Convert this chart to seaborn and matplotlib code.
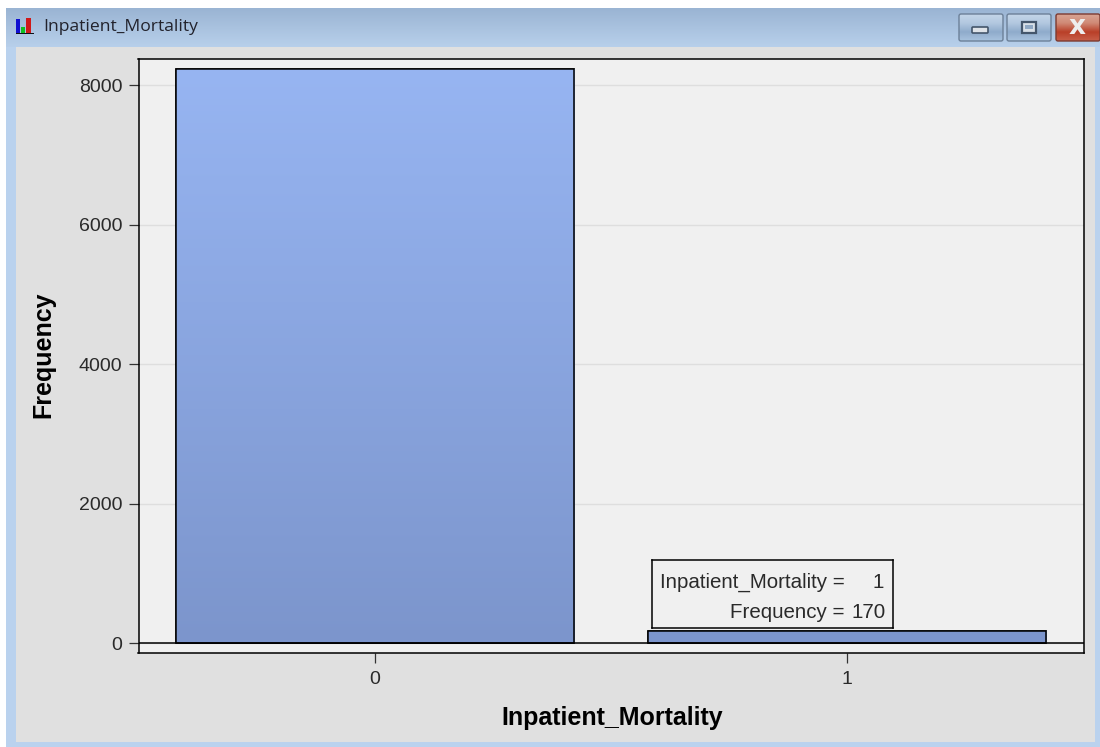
import numpy as np
import pandas as pd
import matplotlib
matplotlib.use("Agg")
import matplotlib.pyplot as plt
from matplotlib.colors import LinearSegmentedColormap
from matplotlib.patches import Rectangle, FancyBboxPatch
import seaborn as sns

categories = ["0", "1"]
frequencies = [8230, 170]
y_ticks = [0, 2000, 4000, 6000, 8000]
window_title = "Inpatient_Mortality"
x_label = "Inpatient_Mortality"
y_label = "Frequency"
tip_lines = [("Inpatient_Mortality =", "1"), ("Frequency =", "170")]

W, H = 1100, 747
sns.set_theme(style="white")
plt.rcParams["font.family"] = ["Liberation Sans", "DejaVu Sans"]

fig = plt.figure(figsize=(W / 100, H / 100), dpi=100, facecolor="white")


def px_axes(l, t, r, b, **kw):
    return fig.add_axes([l / W, 1 - b / H, (r - l) / W, (b - t) / H], **kw)


def vgrad(colors):
    return LinearSegmentedColormap.from_list("g", colors)


# window chrome
bg = px_axes(0, 0, W, H)
ramp = np.linspace(0, 1, 256)[:, None]
bg.imshow(ramp, cmap=vgrad(["#9AB4D3", "#B8D0EB"]), aspect="auto",
          extent=(6, W, 47, 8), origin="upper", zorder=1)
bg.add_patch(Rectangle((6, 47), W - 6, H - 47, fc="#BAD2EE", ec="none", zorder=1))
bg.add_patch(Rectangle((16, 47), 1079, 695, fc="#E0E0E0", ec="none", zorder=2))
bg.text(43, 27, window_title, fontsize=12.6, family=["Open Sans", "DejaVu Sans"],
        color="#22222C", va="center", ha="left", zorder=3)

# title bar icon
for x0, w, y0, c in [(16, 4, 19, "#1010D0"), (21, 4, 27, "#10C020"), (26, 5, 18, "#D01818")]:
    bg.add_patch(Rectangle((x0, y0), w, 33 - y0, fc=c, ec="none", zorder=3))
bg.add_patch(Rectangle((16, 32.5), 18, 1.5, fc="#101018", ec="none", zorder=4))

# title bar buttons
buttons = [
    (959, 1003, ["#C4D6E9", "#B2C8E0", "#8FABCB", "#A9C3DF"], "#6C8098"),
    (1007, 1051, ["#C4D6E9", "#B2C8E0", "#8FABCB", "#A9C3DF"], "#6C8098"),
    (1056, 1100, ["#D9A595", "#D08A76", "#B93F28", "#C8604A"], "#7C3A30"),
]
for x0, x1, cols, edge in buttons:
    box = FancyBboxPatch((x0, 14), x1 - x0, 27, boxstyle="round,pad=0,rounding_size=2",
                         fc="none", ec=edge, lw=1, zorder=3.5)
    bg.add_patch(box)
    im = bg.imshow(ramp, cmap=vgrad(cols), aspect="auto", extent=(x0, x1, 41, 14),
                   origin="upper", zorder=3)
    im.set_clip_path(box)
bg.add_patch(FancyBboxPatch((972, 27), 16, 6, boxstyle="round,pad=0,rounding_size=1",
                            fc="#DDE2E8", ec="#44566C", lw=1.2, zorder=4))
bg.add_patch(Rectangle((1022, 22), 14, 11, fc="#D8E0E8", ec="#44566C", lw=1.6, zorder=4))
bg.add_patch(Rectangle((1025, 25), 8, 4, fc="#8FA8C4", ec="none", zorder=5))
bg.text(1077, 27, "x", fontsize=19, fontweight="bold", color="#EEEEEE",
        ha="center", va="center", zorder=4, family="DejaVu Sans")
bg.set_xlim(0, W)
bg.set_ylim(H, 0)
bg.axis("off")

# chart
ax = px_axes(138.5, 58.5, 1084, 653)
ax.set_facecolor("#F0F0F0")
df = pd.DataFrame({"Inpatient_Mortality": categories, "Frequency": frequencies})
sns.barplot(data=df, x="Inpatient_Mortality", y="Frequency", width=0.845,
            color="#8AA5E0", saturation=1, edgecolor="black", linewidth=1.1, ax=ax, zorder=3)

# vertical gradient shared by the bars, clipped to each bar
bar_cmap = vgrad(["#7C95CC", "#97B5F2"])
for bar in list(ax.patches):
    x0, h = bar.get_x(), bar.get_height()
    img = ax.imshow(np.linspace(1, 0, 256)[:, None], cmap=bar_cmap, aspect="auto",
                    vmin=0, vmax=1, extent=(x0, x0 + bar.get_width(), 0, max(frequencies)),
                    zorder=3.1)
    img.set_clip_path(bar)
    ax.add_patch(Rectangle((x0, 0), bar.get_width(), h, fc="none", ec="black", lw=1.1, zorder=3.2))
ax.set_xlim(-0.501, 1.502)
ax.set_ylim(-143, 8380)

ax.set_yticks(y_ticks)
ax.yaxis.grid(True, color="#DEDEDE", lw=1)
ax.xaxis.grid(False)
ax.set_axisbelow(True)
ax.axhline(0, color="black", lw=1.1, zorder=3.3)
for s in ax.spines.values():
    s.set_visible(True)
    s.set_color("black")
    s.set_linewidth(1.1)
ax.tick_params(axis="both", which="major", length=7, width=0.9, color="#333333",
               labelsize=14, labelcolor="#2A2A2A", bottom=True, left=True)
ax.tick_params(axis="y", pad=4.5)
ax.tick_params(axis="x", pad=6)
ax.set_xlabel(x_label, fontsize=18, fontweight="bold", color="black", labelpad=0)
ax.set_ylabel(y_label, fontsize=18, fontweight="bold", color="black", labelpad=0)
ax.xaxis.set_label_coords((612 - 138.5) / (1084 - 138.5), (653 - 718) / (653 - 58.5))
ax.xaxis.label.set_verticalalignment("center")
ax.yaxis.set_label_coords((43 - 138.5) / (1084 - 138.5), (653 - 355) / (653 - 58.5))
ax.yaxis.label.set_verticalalignment("center")

# data tip
tip = px_axes(652, 560, 893, 628)
tip.set_xlim(652, 893)
tip.set_ylim(628, 560)
tip.set_xticks([])
tip.set_yticks([])
tip.set_facecolor("#F0F0F0")
for s in tip.spines.values():
    s.set_visible(True)
    s.set_color("black")
    s.set_linewidth(1.1)
for (left, right), y, rx in zip(tip_lines, [582, 612], [884, 886]):
    tip.text(845, y, left, fontsize=14.75, color="#2A2A2A", ha="right", va="center")
    tip.text(rx, y, right, fontsize=14.75, color="#2A2A2A", ha="right", va="center")

fig.savefig("out.png", dpi=100, facecolor="white")
